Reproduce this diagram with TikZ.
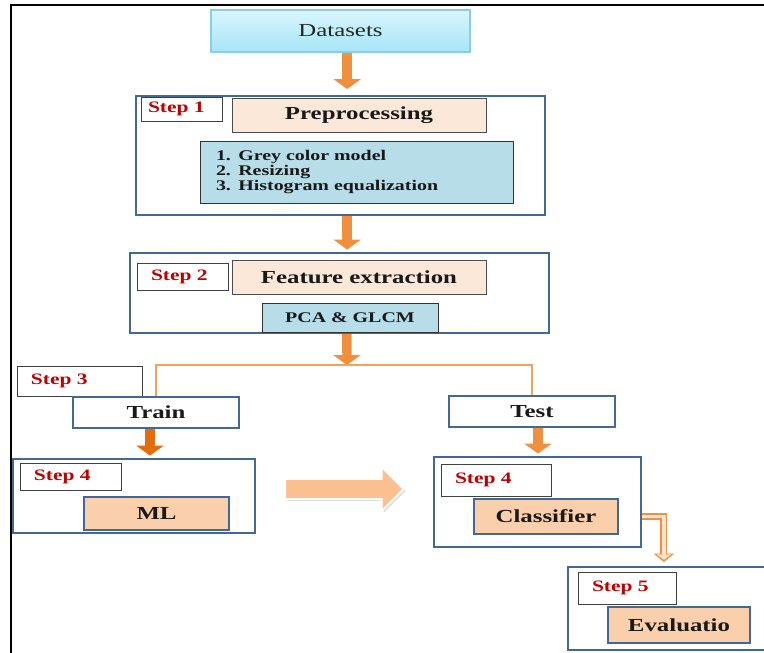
\documentclass[tikz,border=0pt]{standalone}
\usepackage{fontspec}
\setmainfont{Liberation Serif}[FakeStretch=1.35]
\usetikzlibrary{arrows.meta,shapes.arrows,shadows,calc}

\definecolor{stepblue}{HTML}{41689A}
\definecolor{stepred}{HTML}{C00000}
\definecolor{peach}{HTML}{FCE8D8}
\definecolor{salmon}{HTML}{FAD0AC}
\definecolor{listblue}{HTML}{B7DDE8}
\definecolor{arrorange}{HTML}{F0903E}
\definecolor{trainorange}{HTML}{E46C0A}
\definecolor{bigpeach}{HTML}{FAC090}
\definecolor{cyantop}{HTML}{D8F6FD}
\definecolor{cyanbot}{HTML}{A6E5F7}
\definecolor{cyanedge}{HTML}{86CFE6}

\tikzset{
  sz/.style 2 args={minimum width=#1*0.3mm, minimum height=#2*0.3mm},
  stepbox/.style={draw=stepblue, line width=1.8pt, fill=white, inner sep=0pt},
  steplab/.style={draw=black!75, line width=0.8pt, fill=white, text=stepred,
    font=\fontsize{13.6}{15}\selectfont\bfseries, align=left, inner ysep=0pt},
  titlebox/.style={draw=black!70, line width=0.8pt, fill=peach, text=black!90,
    font=\fontsize{15.7}{18}\selectfont\bfseries},
  listbox/.style={draw=black!80, line width=0.8pt, fill=listblue, text=black!90,
    font=\fontsize{12.6}{12.8}\selectfont\bfseries},
  splitbox/.style={draw=stepblue, line width=1.8pt, fill=white, text=black!90,
    font=\fontsize{15.7}{18}\selectfont\bfseries},
  modelbox/.style={draw=stepblue, line width=1.8pt, fill=salmon, text=black!90,
    font=\fontsize{15.7}{18}\selectfont\bfseries},
  flow/.style={line width=8pt, draw=arrorange, -{Triangle[width=23pt,length=8.5pt]}, shorten >=2pt},
  branch/.style={line width=2.4pt, draw=arrorange!85},
  bigarrow/.style={single arrow, fill=bigpeach, draw=white, line width=1.5pt,
    inner xsep=0pt, inner ysep=2.7mm, minimum height=35.5mm, minimum width=11.7mm,
    single arrow head extend=3.6mm,
    drop shadow={opacity=0.25, shadow xshift=0.6mm, shadow yshift=-0.6mm}},
  bentarr/.style={line width=6pt, draw=arrorange, -{Triangle[width=17pt,length=7pt]}, shorten >=1.2mm},
  bentin/.style={line width=3.4pt, draw=bigpeach!45, -{Triangle[width=12pt,length=4.6pt]}, shorten >=1.2mm+1.8pt}
}

\begin{document}
\begin{tikzpicture}[x=0.3mm, y=-0.3mm]
    \useasboundingbox (0,0) rectangle (764,653);
    \draw[line width=2pt] (11,660) -- (11,5) -- (770,5);

    \node[draw=cyanedge, line width=1pt, top color=cyantop, bottom color=cyanbot,
      sz={259}{42}, text=black!85, font=\fontsize{15.7}{18}\selectfont] (data) at (340.5,31) {Datasets};

    % step 1
    \node[stepbox, sz={409}{119}] (s1) at (340.5,155.5) {};
    \node[steplab, text width=20.1mm, inner xsep=2.1mm, minimum height=24*0.3mm] (s1lab) at (181.5,109) {Step 1};
    \node[titlebox, sz={254}{34}] (prep) at (359,115) {Preprocessing};
    \node[listbox, sz={313}{62}, text width=84.3mm, inner xsep=4.8mm, align=left] (prelist) at (356.5,172)
      {1. Grey color model\\2. Resizing\\3. Histogram equalization};

    % step 2
    \node[stepbox, sz={419}{80}] (s2) at (339.5,293) {};
    \node[steplab, text width=18.9mm, inner xsep=4.2mm, minimum height=27*0.3mm] (s2lab) at (182.5,276.5) {Step 2};
    \node[titlebox, sz={254}{34}] (feat) at (359,277) {Feature extraction};
    \node[listbox, sz={176}{29}] (pca) at (350,317.5) {PCA \& GLCM};

    % step 3
    \coordinate (fork) at (347,365);
    \node[steplab, text width=29.1mm, inner xsep=4.2mm, minimum height=30*0.3mm] (s3lab) at (79.5,381) {Step 3};
    \node[splitbox, sz={166}{31}] (train) at (156,412.5) {Train};
    \node[splitbox, sz={166}{31}] (test) at (532,411.5) {Test};

    % step 4
    \node[stepbox, sz={242}{74}] (s4a) at (134,496) {};
    \node[steplab, text width=21.9mm, inner xsep=4.2mm, minimum height=27*0.3mm] (s4alab) at (70.5,476.5) {Step 4};
    \node[modelbox, sz={145}{33}] (ml) at (156.5,513.5) {ML};
    \node[stepbox, sz={207}{90}] (s4b) at (537.5,502) {};
    \node[steplab, text width=24.6mm, inner xsep=4.2mm, minimum height=32*0.3mm] (s4blab) at (496,480) {Step 4};
    \node[modelbox, sz={144}{35}] (clf) at (546,516.5) {Classifier};

    % step 5
    \node[stepbox, sz={222}{83}] (s5) at (679,608.5) {};
    \node[steplab, text width=21mm, inner xsep=4.2mm, minimum height=32*0.3mm] (s5lab) at (627,588) {Step 5};
    \node[modelbox, sz={142}{36}] (eval) at (679,625) {Evaluatio};

    \node[bigarrow] (trans) at ($(s4a.east)!0.5!(s4b.west)+(-5,-10)$) {};

    \draw[flow, shorten >=5pt] ([xshift=2mm]data.south) -- ([xshift=2mm]data.south |- s1.north);
    \draw[flow] ([xshift=2mm]s1.south) -- ([xshift=2mm]s1.south |- s2.north);
    \draw[flow, shorten >=0pt] ([xshift=2.2mm]s2.south) -- (fork);
    \draw[branch] (train.north) -- (train.north |- fork) -- (test.north |- fork) -- (test.north);
    \draw[flow, draw=trainorange] ([xshift=-1.8mm]train.south) -- ([xshift=-1.8mm]train.south |- s4a.north);
    \draw[flow] ([xshift=1.8mm]test.south) -- ([xshift=1.8mm]test.south |- s4b.north);
    \draw[bentarr] (s4b.east |- clf.east) -| ($(s5.north west)+(97,0)$);
    \draw[bentin] (s4b.east |- clf.east) -| ($(s5.north west)+(97,0)$);
\end{tikzpicture}
\end{document}
